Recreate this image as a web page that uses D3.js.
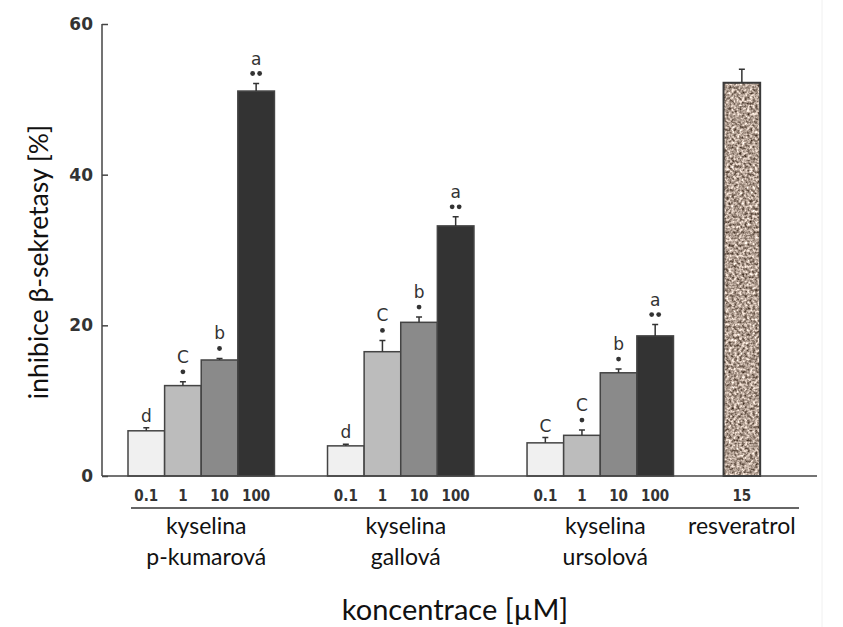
<!DOCTYPE html>
<html>
<head>
<meta charset="utf-8">
<script src="https://cdn.jsdelivr.net/npm/d3@7"></script>
<style>
	body { margin: 0; background: #fff; }
	svg { display: block; }
</style>
</head>
<body>
<svg id="chart" width="843" height="627"></svg>
<script>
"use strict"

//
// data
//
var groups      = ["kyselina\np-kumarová", "kyselina\ngallová", "kyselina\nursolová", "resveratrol"];
var concs       = ["0.1", "1", "10", "100"];
var pKumarova   = [6.0, 12.0, 15.4, 51.1];
var gallova     = [4.0, 16.5, 20.4, 33.2];
var ursolova    = [4.4, 5.4, 13.7, 18.6];
var resveratrol = [52.2];
var errKumarova = [0.4, 0.5, 0.2, 1.0];
var errGallova  = [0.2, 1.5, 0.7, 1.2];
var errUrsolova = [0.7, 0.7, 0.5, 1.5];
var errResv     = [1.8];
var letKumarova = ["d", "C", "b", "a"];
var letGallova  = ["d", "C", "b", "a"];
var letUrsolova = ["C", "C", "b", "a"];
var starsAll    = [0, 1, 1, 2];   // number of significance marks (* / **)
var resvConc    = ["15"];
var yTicks      = [0, 20, 40, 60];

var series = [
	{ name: groups[0], values: pKumarova,   err: errKumarova, letters: letKumarova, stars: starsAll, concs: concs },
	{ name: groups[1], values: gallova,     err: errGallova,  letters: letGallova,  stars: starsAll, concs: concs },
	{ name: groups[2], values: ursolova,    err: errUrsolova, letters: letUrsolova, stars: starsAll, concs: concs },
	{ name: groups[3], values: resveratrol, err: errResv,     letters: [""],        stars: [0],      concs: resvConc }
];

var fills = ["#f0f0f0", "#bcbcbc", "#8a8a8a", "#333333"];
var ink = "#444";

//
// scales
//
var y0 = 476, y1 = 24;
var y = d3.scaleLinear().domain([0, 60]).range([y0, y1]);
var xg = d3.scaleBand().domain(groups).range([128, 873]).paddingInner(0.266).paddingOuter(0);
var xc = d3.scaleBand().domain(concs).range([0, xg.bandwidth()]);

var svg = d3.select("#chart");

// speckled texture for resveratrol
var defs = svg.append("defs");
var flt = defs.append("filter").attr("id", "speckle")
	.attr("x", 0).attr("y", 0).attr("width", 1).attr("height", 1)
	.attr("color-interpolation-filters", "sRGB");
flt.append("feTurbulence")
	.attr("type", "fractalNoise")
	.attr("baseFrequency", 0.38)
	.attr("numOctaves", 2)
	.attr("seed", 7)
	.attr("result", "n");
flt.append("feColorMatrix").attr("in", "n").attr("type", "matrix")
	.attr("values", "1.3 0 0 0 0.04  1.3 0 0 0 -0.03  1.3 0 0 0 -0.08  0 0 0 0 1")
	.attr("result", "c");
flt.append("feComposite").attr("in", "c").attr("in2", "SourceGraphic").attr("operator", "in");

// faint right border of the scanned figure
svg.append("line")
	.attr("x1", 822).attr("x2", 822).attr("y1", 0).attr("y2", 627)
	.attr("stroke", "#f0f0f0").attr("stroke-width", 1);

//
// y axis
//
var yAxis = d3.axisRight(y).tickValues(yTicks).tickSize(6).tickFormat("");
var gy = svg.append("g").attr("transform", "translate(102,0)").call(yAxis);
gy.select(".domain").remove();
gy.selectAll(".tick line").attr("stroke", ink).attr("stroke-width", 1.5);
gy.append("line")
	.attr("x1", 0).attr("x2", 0).attr("y1", y(60)).attr("y2", y0)
	.attr("stroke", ink).attr("stroke-width", 1.5);
gy.selectAll(".ylab").data(yTicks).enter().append("text")
	.attr("class", "ylab")
	.attr("x", -9)
	.attr("y", function(d) { return y(d); })
	.attr("dy", "0.36em")
	.attr("text-anchor", "end")
	.attr("font-family", "DejaVu Sans")
	.attr("font-size", 17)
	.attr("font-weight", "bold")
	.attr("fill", "#333")
	.text(function(d) { return d; });

//
// bars
//
var gGroup = svg.selectAll(".grp").data(series).enter().append("g")
	.attr("class", "grp")
	.attr("transform", function(d) { return "translate(" + xg(d.name) + ",0)"; });

gGroup.each(function(s, gi) {
	var g = d3.select(this);
	var items = s.values.map(function(v, i) {
		return { v: v, e: s.err[i], l: s.letters[i], st: s.stars[i], c: s.concs[i], i: i };
	});
	var resv = (gi == 3);
	var bw = xc.bandwidth();
	var xPos = function(d) { return resv ? -3 : xc(concs[d.i]); };
	// bar
	g.selectAll(".bar").data(items).enter().append("rect")
		.attr("class", "bar")
		.attr("x", xPos)
		.attr("y", function(d) { return y(d.v); })
		.attr("width", bw)
		.attr("height", function(d) { return y0 - y(d.v); })
		.attr("fill", function(d) { return resv ? "#b8a595" : fills[d.i]; })
		.attr("filter", resv ? "url(#speckle)" : null)
		.attr("stroke", resv ? "none" : ink)
		.attr("stroke-width", 1.5);
	if (resv) {
		g.selectAll(".outline").data(items).enter().append("rect")
			.attr("x", xPos)
			.attr("y", function(d) { return y(d.v); })
			.attr("width", bw)
			.attr("height", function(d) { return y0 - y(d.v); })
			.attr("fill", "none")
			.attr("stroke", "#3a3a3a")
			.attr("stroke-width", 2);
	}
	// error bars
	var cx = function(d) { return xPos(d) + bw / 2; };
	g.selectAll(".err").data(items).enter().append("path")
		.attr("class", "err")
		.attr("d", function(d) {
			var xm = cx(d), yt = y(d.v + d.e);
			return "M" + xm + "," + y(d.v) + "V" + yt + "M" + (xm - 3) + "," + yt + "H" + (xm + 3);
		})
		.attr("fill", "none")
		.attr("stroke", "#333")
		.attr("stroke-width", 1.5);
	// significance dots
	var dots = [];
	items.forEach(function(d) {
		for (var k = 0; k < d.st; k++)
			dots.push({ x: cx(d) + (d.st == 2 ? (k ? 3.5 : -3.5) : 0), y: y(d.v + d.e) - 10 });
	});
	g.selectAll(".star").data(dots).enter().append("circle")
		.attr("class", "star")
		.attr("cx", function(d) { return d.x; })
		.attr("cy", function(d) { return d.y; })
		.attr("r", 2.4)
		.attr("fill", "#333");
	// letters
	g.selectAll(".let").data(items).enter().append("text")
		.attr("class", "let")
		.attr("x", cx)
		.attr("y", function(d) { return y(d.v + d.e) - (d.st ? 19 : 6); })
		.attr("text-anchor", "middle")
		.attr("font-family", "DejaVu Sans")
		.attr("font-size", 17)
		.attr("fill", "#333")
		.text(function(d) { return d.l; });
	// concentration labels
	g.selectAll(".conc").data(items).enter().append("text")
		.attr("class", "conc")
		.attr("x", cx)
		.attr("y", 501)
		.attr("text-anchor", "middle")
		.attr("font-family", "DejaVu Sans Condensed, DejaVu Sans")
		.attr("font-size", 15)
		.attr("font-weight", "bold")
		.attr("fill", "#333")
		.text(function(d) { return d.c; });
	// group label
	var lines = s.name.split("\n");
	var gx = resv ? cx(items[0]) : xg.bandwidth() / 2 + 5;
	g.selectAll(".glab").data(lines).enter().append("text")
		.attr("class", "glab")
		.attr("x", gx)
		.attr("y", function(d, i) { return 534 + i * 31; })
		.attr("text-anchor", "middle")
		.attr("font-family", "Lato")
		.attr("font-size", 23)
		.attr("fill", "#111")
		.text(function(d) { return d; });
});

// x axis baseline and the line under the concentrations
svg.append("line")
	.attr("x1", 102).attr("x2", 817).attr("y1", y0).attr("y2", y0)
	.attr("stroke", ink).attr("stroke-width", 1.5);
svg.append("line")
	.attr("x1", 131).attr("x2", 799).attr("y1", 508).attr("y2", 508)
	.attr("stroke", "#333").attr("stroke-width", 1.5);

//
// axis titles
//
svg.append("text")
	.attr("x", 455).attr("y", 620)
	.attr("text-anchor", "middle")
	.attr("font-family", "Lato")
	.attr("font-size", 29)
	.attr("fill", "#111")
	.text("koncentrace [µM]");
svg.append("text")
	.attr("transform", "translate(48,262) rotate(-90)")
	.attr("text-anchor", "middle")
	.attr("font-family", "Lato")
	.attr("font-size", 26.5)
	.attr("fill", "#111")
	.text("inhibice β-sekretasy [%]");
</script>
</body>
</html>
